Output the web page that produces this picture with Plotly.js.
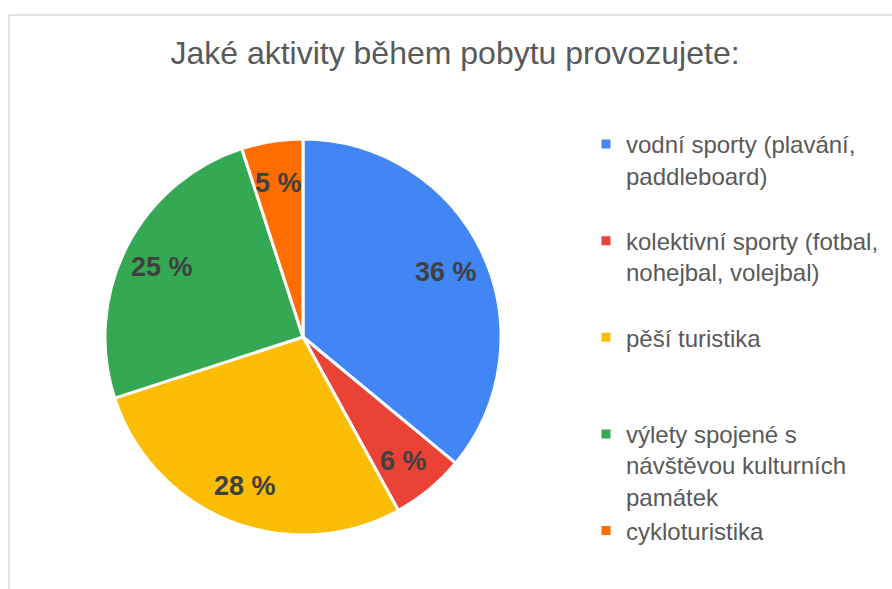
<!DOCTYPE html>
<html>
<head>
<meta charset="utf-8">
<script src="https://cdn.plot.ly/plotly-3.0.1.min.js"></script>
<style>
  html, body { margin: 0; padding: 0; background: #ffffff; }
  #chart { width: 892px; height: 589px; }
</style>
</head>
<body>
<div id="chart"></div>
<script>
const categories = [
  "vodní sporty (plavání,<br>paddleboard)<br> ",
  "kolektivní sporty (fotbal,<br>nohejbal, volejbal)<br> ",
  "pěší turistika<br> <br> ",
  "výlety spojené s<br>návštěvou kulturních<br>památek",
  "cykloturistika"
];
const values = [36, 6, 28, 25, 5];
const colors = ["#4285F4", "#EA4335", "#FBBC04", "#34A853", "#FF6D01"];
const titleText = "Jaké aktivity během pobytu provozujete:";

const W = 892, H = 589;
// pie geometry (layout)
const CX = 303, CY = 337, R = 198;
const LABEL_R = 0.8;

// data labels placed along each slice's mid angle (clockwise from 12 o'clock)
const total = values.reduce((a, b) => a + b, 0);
let cum = 0;
const labelAnnotations = values.map((v) => {
  const mid = (cum + v / 2) / total;
  cum += v;
  const ang = Math.PI / 2 - mid * 2 * Math.PI;
  const px = CX + LABEL_R * R * Math.cos(ang);
  const py = CY - LABEL_R * R * Math.sin(ang) + 2;
  return {
    xref: "paper", yref: "paper",
    x: px / W, y: 1 - py / H,
    xanchor: "center", yanchor: "middle",
    text: "<b>" + v + " %</b>",
    showarrow: false,
    font: { family: "Liberation Sans, Arial, sans-serif", size: 27, color: "#404040" }
  };
});

const data = [{
  type: "pie",
  labels: categories,
  values: values,
  sort: false,
  direction: "clockwise",
  rotation: 0,
  marker: { colors: colors, line: { color: "#ffffff", width: 3 } },
  textinfo: "none",
  hoverinfo: "label+percent",
  domain: { x: [(CX - R) / W, (CX + R) / W], y: [(H - CY - R) / H, (H - CY + R) / H] }
}];

const layout = {
  width: W, height: H,
  margin: { l: 0, r: 0, t: 0, b: 0 },
  paper_bgcolor: "#ffffff",
  font: { family: "Liberation Sans, Arial, sans-serif", color: "#595959" },
  title: {
    text: titleText,
    font: { family: "Liberation Sans, Arial, sans-serif", size: 32, color: "#595959" },
    x: 455 / W, xanchor: "center",
    y: 1 - 53 / H, yanchor: "middle",
    xref: "paper", yref: "paper"
  },
  showlegend: true,
  legend: {
    x: 586 / W, xanchor: "left",
    y: 1 - 122 / H, yanchor: "top",
    valign: "top",
    font: { family: "Liberation Sans, Arial, sans-serif", size: 24, color: "#595959" },
    traceorder: "normal",
    bgcolor: "rgba(0,0,0,0)"
  },
  annotations: labelAnnotations,
  shapes: [
    { type: "line", xref: "paper", yref: "paper", x0: 9 / W, x1: 9 / W, y0: 0, y1: 1 - 15 / H,
      line: { color: "#d9d9d9", width: 1.5 } },
    { type: "line", xref: "paper", yref: "paper", x0: 9 / W, x1: 1, y0: 1 - 15 / H, y1: 1 - 15 / H,
      line: { color: "#d9d9d9", width: 1.5 } }
  ]
};

Plotly.newPlot("chart", data, layout, { displayModeBar: false, staticPlot: true });
</script>
</body>
</html>
